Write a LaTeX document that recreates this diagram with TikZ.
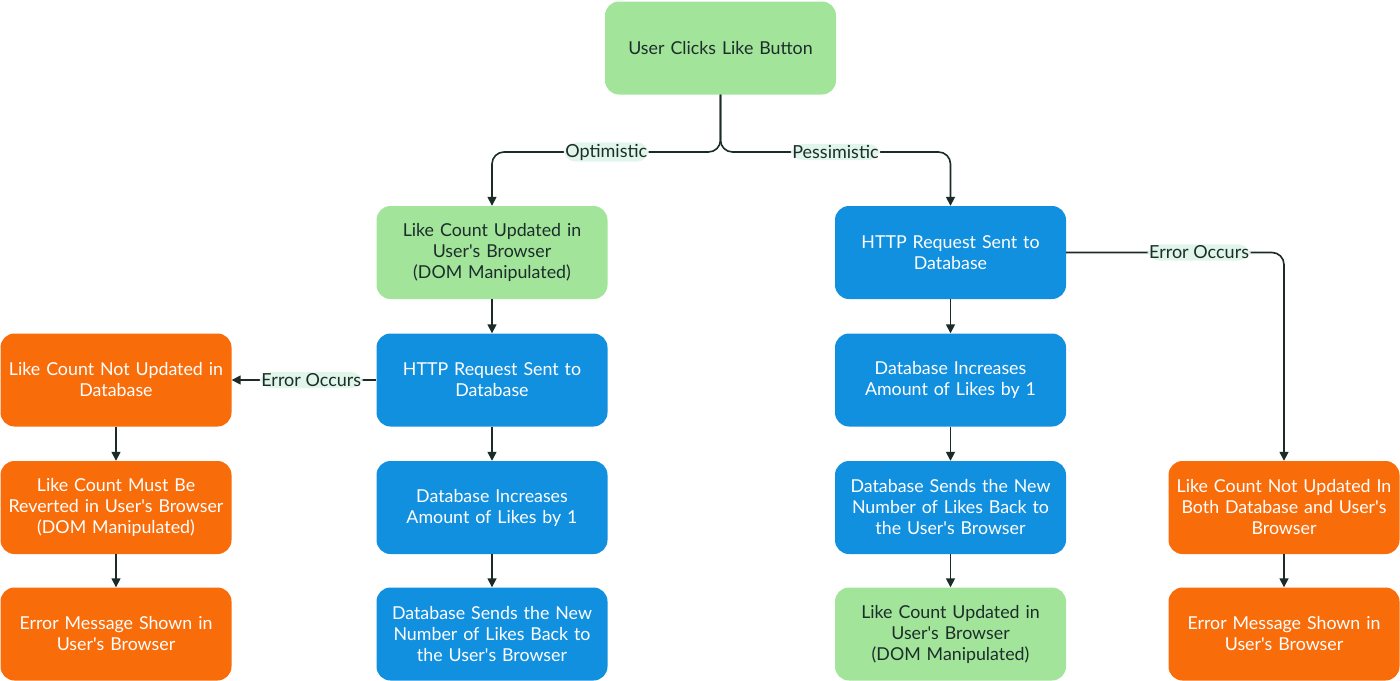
\documentclass[tikz,border=0pt]{standalone}
\usepackage{fontspec}
\setmainfont{Lato}
\usetikzlibrary{arrows.meta}
\definecolor{gbox}{HTML}{A3E49B}
\definecolor{bbox}{HTML}{1290E0}
\definecolor{obox}{HTML}{F96C0A}
\definecolor{lnk}{HTML}{1A2B28}
\definecolor{lblbg}{HTML}{E2F5EB}
\definecolor{dtext}{HTML}{1B2E2A}
\newcommand{\aps}{\textquotesingle}
\tikzset{
  x=1pt, y=-1pt,
  box/.style={rounded corners=14pt, minimum width=231pt, minimum height=93pt, text width=222pt, align=center, font=\fontsize{17.8}{21}\selectfont, inner sep=0pt},
  gb/.style={box, fill=gbox, text=dtext},
  bb/.style={box, fill=bbox, text=white},
  ob/.style={box, fill=obox, text=white},
  conn/.style={draw=lnk, line width=1.6pt, -{Triangle[length=9pt,width=9pt]}, rounded corners=12pt},
  lbl/.style={fill=lblbg, text=dtext, inner sep=1.5pt, font=\fontsize{18}{20}\selectfont}
}
\begin{document}
\begin{tikzpicture}
\useasboundingbox (0,0) rectangle (1400,680);
\node[gb] (top) at (720.5,48) {User Clicks Like Button};
\node[gb] (og1) at (492,252.5) {Like Count Updated in\\User\aps s Browser\\(DOM Manipulated)};
\node[bb] (ob2) at (492,380) {HTTP Request Sent to\\Database};
\node[bb] (ob3) at (492,507.5) {Database Increases\\Amount of Likes by 1};
\node[bb] (ob4) at (492,634) {Database Sends the New\\Number of Likes Back to\\the User\aps s Browser};
\node[ob] (oe1) at (116,380) {Like Count Not Updated in\\Database};
\node[ob] (oe2) at (116,507.5) {Like Count Must Be\\Reverted in User\aps s Browser\\(DOM Manipulated)};
\node[ob] (oe3) at (116,634) {Error Message Shown in\\User\aps s Browser};
\node[bb] (pb1) at (950.5,252.5) {HTTP Request Sent to\\Database};
\node[bb] (pb2) at (950.5,380) {Database Increases\\Amount of Likes by 1};
\node[bb] (pb3) at (950.5,507.5) {Database Sends the New\\Number of Likes Back to\\the User\aps s Browser};
\node[gb] (pb4) at (950.5,634) {Like Count Updated in\\User\aps s Browser\\(DOM Manipulated)};
\node[ob] (pe1) at (1284,507.5) {Like Count Not Updated In\\Both Database and User\aps s\\Browser};
\node[ob] (pe2) at (1284,634) {Error Message Shown in\\User\aps s Browser};
% top split
\coordinate (split) at (720.5,152);
\draw[conn] (top.south) -- (split) -| node[lbl, pos=0.25] {Optimistic} (og1.north);
\draw[conn] (top.south) -- (split) -| node[lbl, pos=0.25] {Pessimistic} (pb1.north);
% optimistic chain
\draw[conn] (og1) -- (ob2);
\draw[conn] (ob2) -- (ob3);
\draw[conn] (ob3) -- (ob4);
\draw[conn] (ob2.west) -- node[lbl, pos=0.45] {Error Occurs} (oe1.east);
\draw[conn] (oe1) -- (oe2);
\draw[conn] (oe2) -- (oe3);
% pessimistic chain
\draw[conn] (pb1) -- (pb2);
\draw[conn] (pb2) -- (pb3);
\draw[conn] (pb3) -- (pb4);
\draw[conn] (pb1.east) -| node[lbl, pos=0.305] {Error Occurs} (pe1.north);
\draw[conn] (pe1) -- (pe2);
\end{tikzpicture}
\end{document}
